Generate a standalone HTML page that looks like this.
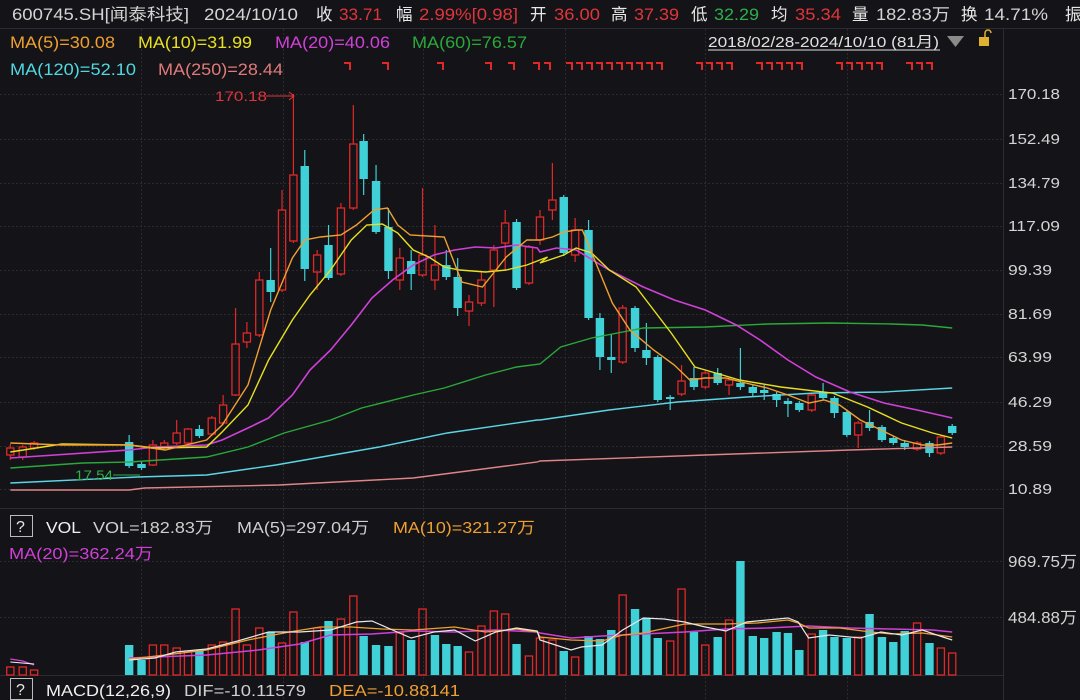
<!DOCTYPE html>
<html><head><meta charset="utf-8"><style>
html,body{margin:0;padding:0;background:#141418;width:1080px;height:700px;overflow:hidden}
svg{display:block}
text{font-family:"Liberation Sans","Noto Sans CJK SC",sans-serif}
</style></head><body>
<svg id="s" width="1080" height="700" xmlns="http://www.w3.org/2000/svg">
<rect width="1080" height="700" fill="#141418"/>
<g id="grid"></g>
<line x1="0" y1="28.5" x2="1080" y2="28.5" stroke="#2c2c32"/>
<line x1="1003.5" y1="28" x2="1003.5" y2="700" stroke="#2c2c32"/>
<line x1="0" y1="508.5" x2="1003" y2="508.5" stroke="#2c2c32"/>
<line x1="0" y1="675.5" x2="1003" y2="675.5" stroke="#2c2c32"/>
<g id="c"></g>
<g font-size="16.5">
<text x="12" y="20" fill="#d4d4d4" textLength="177" lengthAdjust="spacingAndGlyphs">600745.SH[闻泰科技]</text>
<text x="204" y="20" fill="#d4d4d4" textLength="94" lengthAdjust="spacingAndGlyphs">2024/10/10</text>
<text x="316" y="20" fill="#e8e8e8">收</text><text x="339" y="20" fill="#e0353a" textLength="43" lengthAdjust="spacingAndGlyphs">33.71</text>
<text x="396" y="20" fill="#e8e8e8">幅</text><text x="419" y="20" fill="#e0353a" textLength="99" lengthAdjust="spacingAndGlyphs">2.99%[0.98]</text>
<text x="530" y="20" fill="#e8e8e8">开</text><text x="554" y="20" fill="#e0353a" textLength="46" lengthAdjust="spacingAndGlyphs">36.00</text>
<text x="611" y="20" fill="#e8e8e8">高</text><text x="634" y="20" fill="#e0353a" textLength="45" lengthAdjust="spacingAndGlyphs">37.39</text>
<text x="691" y="20" fill="#e8e8e8">低</text><text x="714" y="20" fill="#2fae4a" textLength="45" lengthAdjust="spacingAndGlyphs">32.29</text>
<text x="771" y="20" fill="#e8e8e8">均</text><text x="795" y="20" fill="#e0353a" textLength="46" lengthAdjust="spacingAndGlyphs">35.34</text>
<text x="852" y="20" fill="#e8e8e8">量</text><text x="876" y="20" fill="#d4d4d4" textLength="74" lengthAdjust="spacingAndGlyphs">182.83万</text>
<text x="961" y="20" fill="#e8e8e8">换</text><text x="984" y="20" fill="#d4d4d4" textLength="64" lengthAdjust="spacingAndGlyphs">14.71%</text>
<text x="1065" y="20" fill="#e8e8e8">振</text>
</g>
<g font-size="17">
<text x="10" y="48" fill="#f0a030" textLength="105" lengthAdjust="spacingAndGlyphs">MA(5)=30.08</text>
<text x="138" y="48" fill="#e8e020" textLength="114" lengthAdjust="spacingAndGlyphs">MA(10)=31.99</text>
<text x="275" y="48" fill="#d040d8" textLength="115" lengthAdjust="spacingAndGlyphs">MA(20)=40.06</text>
<text x="412" y="48" fill="#2aa83a" textLength="115" lengthAdjust="spacingAndGlyphs">MA(60)=76.57</text>
<text x="10" y="75" fill="#50d8e0" textLength="126" lengthAdjust="spacingAndGlyphs">MA(120)=52.10</text>
<text x="158" y="75" fill="#e07a7a" textLength="125" lengthAdjust="spacingAndGlyphs">MA(250)=28.44</text>
<text x="708" y="47" fill="#e0e0e0" font-size="14.5" textLength="231" lengthAdjust="spacingAndGlyphs">2018/02/28-2024/10/10 (81月)</text>
</g>
<line x1="708" y1="50" x2="940" y2="50" stroke="#e0e0e0"/>
<polygon points="947,36 964,36 955.5,47" fill="#8a8a8a"/>
<rect x="979" y="37" width="10" height="9" fill="#e0b030"/><path d="M985 37 v-4 a3 3 0 0 1 6 0" fill="none" stroke="#e0b030" stroke-width="1.5"/>
<g id="marks" stroke="#e02828" stroke-width="2" fill="none"></g>
<g font-size="15" fill="#d4d4d4" id="ylab"></g>
<text x="215" y="101" fill="#e0353a" font-size="14" textLength="52" lengthAdjust="spacingAndGlyphs">170.18</text>
<line x1="266" y1="96" x2="294" y2="96" stroke="#e0353a"/><polyline points="289,92 294,96 289,100" fill="none" stroke="#e0353a"/>
<text x="75" y="480" fill="#2fae4a" font-size="14" textLength="38" lengthAdjust="spacingAndGlyphs">17.54</text>
<line x1="113" y1="475" x2="140" y2="475" stroke="#2fae4a"/>
<g font-size="16">
<rect x="10.5" y="515.5" width="22" height="21" fill="none" stroke="#bbb"/>
<text x="16" y="532" fill="#e8e8e8">?</text>
<text x="46" y="533" fill="#f0f0f0" textLength="35" lengthAdjust="spacingAndGlyphs">VOL</text>
<text x="93" y="533" fill="#cfcfcf" textLength="120" lengthAdjust="spacingAndGlyphs">VOL=182.83万</text>
<text x="237" y="533" fill="#cfcfcf" textLength="132" lengthAdjust="spacingAndGlyphs">MA(5)=297.04万</text>
<text x="393" y="533" fill="#f0a030" textLength="142" lengthAdjust="spacingAndGlyphs">MA(10)=321.27万</text>
<text x="9" y="559" fill="#d040d8" textLength="144" lengthAdjust="spacingAndGlyphs">MA(20)=362.24万</text>
<text x="1008" y="567" fill="#d4d4d4" textLength="69" lengthAdjust="spacingAndGlyphs">969.75万</text>
<text x="1008" y="623" fill="#d4d4d4" textLength="69" lengthAdjust="spacingAndGlyphs">484.88万</text>
<rect x="10.5" y="678.5" width="22" height="21" fill="none" stroke="#bbb"/>
<text x="16" y="695" fill="#e8e8e8">?</text>
<text x="46" y="696" fill="#f0f0f0" textLength="125" lengthAdjust="spacingAndGlyphs">MACD(12,26,9)</text>
<text x="184" y="696" fill="#cfcfcf" textLength="122" lengthAdjust="spacingAndGlyphs">DIF=-10.11579</text>
<text x="329" y="696" fill="#f0a030" textLength="131" lengthAdjust="spacingAndGlyphs">DEA=-10.88141</text>
</g>
</svg>
<script>
var NS="http://www.w3.org/2000/svg";
function fx(x){return x<540?x*1.0331:540+(x-540)*1.0331;}
function el(p,n,a){var e=document.createElementNS(NS,n);for(var k in a)e.setAttribute(k,a[k]);document.getElementById(p).appendChild(e);return e;}
[94,139,183,226,270,314,357,402,446,489,561,617].forEach(function(y){el('grid','line',{x1:0,x2:1003,y1:y+.5,y2:y+.5,stroke:'#2a2a30','stroke-dasharray':'2,2'});});
[141.5,283.5,423.5,565.5,705.5,847.5].forEach(function(x){el('grid','line',{x1:x,x2:x,y1:29,y2:700,stroke:'#2a2a30','stroke-dasharray':'2,2'});});
var labs=[["170.18",94],["152.49",139],["134.79",183],["117.09",226],["99.39",270],["81.69",314],["63.99",357],["46.29",402],["28.59",446],["10.89",489]];
labs.forEach(function(l){var t=el('ylab','text',{x:1008,y:l[1]+5,textLength:l[0].length==6?52:44,lengthAdjust:'spacingAndGlyphs'});t.textContent=l[0];});
[348,386,441,489,512,537,548,570,580,590,600,610,620,630,640,650,660,700,710,720,730,760,770,780,790,800,840,850,860,870,880,910,920,930].forEach(function(x){el('marks','polyline',{points:(x-4)+',63 '+(x+2)+',63 '+(x+2)+',70'});});
var C=[[10,448,455,444,460,'r'],[22,447,457,445,460,'r'],[33,443,448,441,450,'r'],
[125,442,466,435,468,'c'],[137,464,468,462,470,'c'],[148,445,465,440,466,'r'],[159,443,447,440,450,'r'],[171,433,443,420,445,'r'],[182,429,443,428,445,'r'],[193,429,436,425,438,'c'],[205,418,434,416,436,'r'],[216,405,423,395,425,'r'],[228,344,395,308,396,'r'],[239,333,342,322,348,'r'],[251,280,335,272,337,'r'],[262,280,292,248,302,'c'],[273,210,290,190,292,'r'],[284,175,241,94,243,'r'],[295,166,269,150,281,'c'],[307,255,272,250,290,'r'],[318,245,278,225,280,'c'],[330,208,274,203,276,'r'],[342,144,208,105,210,'r'],[352,141,179,134,195,'c'],[364,181,232,165,234,'c'],[376,227,271,208,279,'c'],[387,258,280,248,290,'r'],[398,261,274,250,290,'c'],[409,255,275,188,277,'r'],[421,265,280,225,290,'r'],[432,265,277,250,280,'c'],[443,277,308,258,316,'c'],[454,302,311,295,326,'r'],[466,280,303,272,306,'r'],[478,250,270,245,307,'r'],[489,223,243,210,270,'r'],[500,222,288,219,290,'c'],[512,247,283,245,285,'r'],
[540,217,240,210,245,'r'],[552,200,210,163,220,'r'],[563,197,253,195,256,'c'],[574,230,255,218,262,'r'],[587,230,318,220,320,'c'],[598,318,357,313,370,'c'],[609,357,360,334,373,'c'],[620,308,362,305,364,'r'],[632,308,348,306,352,'c'],[643,350,358,323,365,'c'],[654,357,400,355,402,'c'],[666,397,399,395,410,'c'],[677,381,394,365,396,'r'],[689,378,387,367,390,'c'],[700,373,387,371,389,'r'],[712,373,383,368,385,'c'],[723,380,385,377,395,'r'],[734,383,387,348,390,'c'],[746,387,393,385,396,'c'],[757,390,393,385,400,'c'],[769,394,400,392,407,'c'],[780,401,404,398,417,'c'],[791,403,410,401,412,'c'],[803,395,410,393,412,'r'],[814,392,398,383,400,'c'],[825,398,413,396,418,'c'],[837,412,435,410,437,'c'],[848,423,435,421,448,'r'],[859,422,428,410,431,'c'],[871,427,440,425,442,'c'],[882,438,443,436,445,'c'],[893,443,447,440,450,'c'],[905,443,449,441,451,'r'],[917,443,453,441,457,'c'],[928,437,453,435,455,'r'],[939,426,433,424,435,'c']];
var RED='#e02828',CY='#3fd0d8';
C.forEach(function(c){var x=fx(c[0]),col=c[5]=='r'?RED:CY;
 el('c','line',{x1:x,x2:x,y1:c[3],y2:c[1],stroke:col,'stroke-width':1.2});
 el('c','line',{x1:x,x2:x,y1:c[2],y2:c[4],stroke:col,'stroke-width':1.2});
 var h=Math.max(c[2]-c[1],1.5);
 if(c[5]=='r')el('c','rect',{x:x-3.6,y:c[1],width:7.2,height:h,fill:'none',stroke:RED,'stroke-width':1.3});
 else el('c','rect',{x:x-4.2,y:c[1],width:8.4,height:h,fill:CY});
});
function line(pts,col,w){el('c','polyline',{points:pts.map(function(p){return fx(p[0])+','+p[1];}).join(' '),fill:'none',stroke:col,'stroke-width':w||1.4});}
line([[10,490],[125,490],[140,488],[270,485],[400,478],[520,462],[540,461],[700,455],[840,450],[939,447]],'#e08585');
line([[10,483],[133,477],[200,475],[267,465],[367,447],[433,433],[520,420],[540,420],[607,410],[673,402],[740,397],[807,393],[873,392],[939,388]],'#5cd6e6');
line([[10,468],[80,463],[125,462],[200,457],[240,447],[275,433],[320,420],[350,408],[400,395],[430,388],[470,375],[500,367],[540,364],[560,347],[590,338],[640,328],[700,327],[760,324],[820,323],[880,324],[910,325],[939,328]],'#2aa83a');
line([[10,458],[125,450],[150,447],[200,445],[215,440],[240,428],[260,418],[283,395],[300,370],[320,350],[340,325],[360,298],[380,280],[400,265],[420,255],[440,250],[460,247],[480,248],[500,245],[520,248],[540,252],[556,248],[575,250],[607,270],[640,287],[670,300],[700,310],[730,325],[753,340],[780,360],[807,377],[840,392],[873,403],[905,410],[939,418]],'#d040d8',1.6);
line([[10,452],[60,444],[125,445],[150,448],[200,447],[215,432],[240,405],[260,360],[283,320],[300,295],[320,270],[340,240],[355,225],[370,224],[385,233],[400,250],[415,257],[430,267],[445,270],[470,272],[490,270],[510,265],[530,257],[540,263],[563,255],[575,248],[590,253],[607,270],[633,287],[650,310],[667,333],[690,367],[710,373],[733,380],[773,387],[823,393],[857,407],[890,423],[920,433],[939,438]],'#e8e020');
line([[10,443],[60,445],[125,445],[160,450],[200,440],[215,425],[240,385],[262,310],[283,258],[295,240],[310,237],[330,235],[345,225],[362,210],[375,208],[385,225],[397,235],[430,237],[447,282],[467,287],[490,257],[510,240],[540,240],[552,237],[563,232],[575,230],[581,230],[610,303],[627,330],[650,350],[670,365],[685,380],[700,378],[720,378],[735,382],[760,388],[780,395],[800,403],[815,400],[830,405],[850,420],[870,430],[890,440],[910,445],[925,445],[939,443]],'#f0a030');
var V=[[10,667,'r'],[22,667,'r'],[33,670,'r'],[125,645,'c'],[137,660,'c'],[148,645,'r'],[159,645,'r'],[171,648,'r'],[182,651,'r'],[193,651,'c'],[205,645,'r'],[216,642,'r'],[228,609,'r'],[239,645,'r'],[251,628,'r'],[262,632,'c'],[273,643,'r'],[284,612,'r'],[295,642,'c'],[307,628,'r'],[318,621,'c'],[330,619,'r'],[342,596,'r'],[352,636,'c'],[364,645,'c'],[376,646,'c'],[387,633,'r'],[398,640,'c'],[409,609,'r'],[421,635,'c'],[432,644,'c'],[443,646,'c'],[454,652,'r'],[466,626,'r'],[478,611,'r'],[489,614,'r'],[500,644,'c'],[512,656,'r'],
[540,638,'r'],[552,640,'r'],[563,651,'c'],[574,657,'r'],[587,636,'c'],[598,639,'c'],[609,630,'c'],[620,595,'r'],[632,609,'c'],[643,618,'c'],[654,638,'c'],[666,641,'r'],[677,589,'r'],[689,632,'c'],[700,645,'r'],[712,637,'c'],[723,620,'r'],[734,561,'c'],[746,636,'c'],[757,638,'c'],[769,632,'c'],[780,633,'c'],[791,650,'c'],[803,634,'r'],[814,630,'c'],[825,637,'c'],[837,638,'c'],[848,637,'r'],[859,614,'c'],[871,637,'c'],[882,642,'c'],[893,631,'c'],[905,623,'r'],[917,643,'c'],[928,648,'r'],[939,653,'r']];
V.forEach(function(v){var x=fx(v[0]);
 if(v[2]=='r')el('c','rect',{x:x-3.6,y:v[1],width:7.2,height:675-v[1],fill:'none',stroke:RED,'stroke-width':1.3});
 else el('c','rect',{x:x-4.2,y:v[1],width:8.4,height:675-v[1],fill:CY});});
line([[10,659],[22,661],[33,665]],'#d040d8',1.2);line([[10,662],[33,664]],'#f0f0f0',1);
line([[125,658],[200,655],[250,650],[290,644],[320,635],[360,634],[400,631],[440,632],[480,630],[520,632],[540,633],[570,638],[600,636],[640,634],[680,632],[720,629],[760,628],[800,626],[840,628],[880,629],[920,630],[939,632]],'#d040d8',1.5);
line([[125,659],[160,655],[200,650],[240,640],[280,632],[310,627],[340,627],[370,629],[400,630],[440,627],[470,632],[500,629],[520,632],[540,637],[570,640],[600,641],[620,635],[640,633],[680,624],[720,624],[750,623],[780,620],[790,623],[800,628],[830,628],[860,632],[880,634],[910,633],[939,637]],'#f0a030',1.3);
line([[125,660],[150,658],[170,652],[200,649],[230,641],[260,632],[290,632],[320,630],[345,622],[360,621],[380,630],[398,638],[420,632],[440,630],[460,641],[480,632],[500,628],[520,631],[540,640],[570,650],[580,647],[600,645],[620,630],[640,618],[660,619],[680,622],[700,627],[720,631],[740,622],[760,620],[780,618],[790,622],[800,638],[820,635],[850,638],[870,632],[890,635],[910,630],[930,637],[939,640]],'#e8e8e8',1.2);
</script>
</body></html>
